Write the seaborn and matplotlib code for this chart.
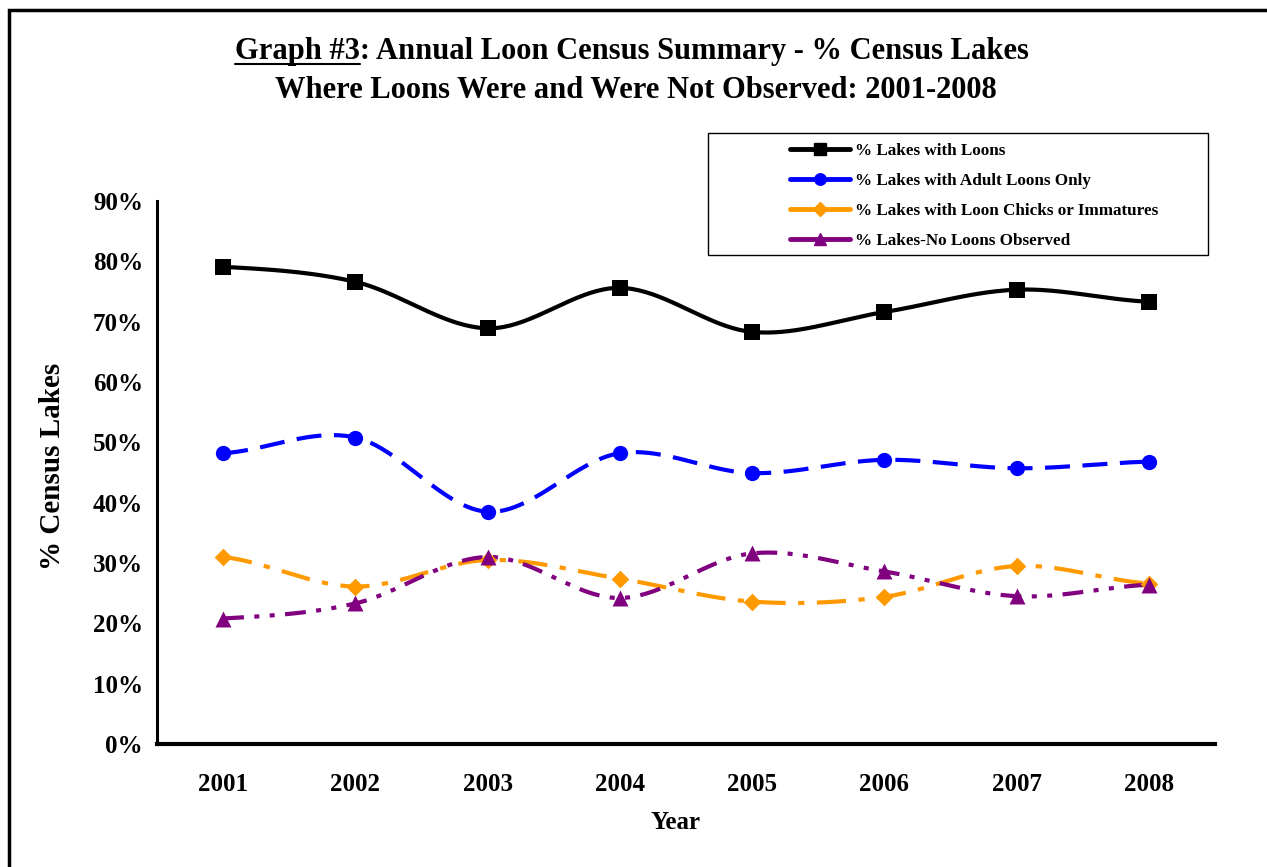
import numpy as np
import matplotlib
matplotlib.use("Agg")
import matplotlib.pyplot as plt
import seaborn as sns
from matplotlib.lines import Line2D
from matplotlib.patches import Rectangle

# data (percent of census lakes)
years = ["2001", "2002", "2003", "2004", "2005", "2006", "2007", "2008"]
pct_loons = [79.1, 76.6, 68.9, 75.6, 68.3, 71.6, 75.3, 73.3]
pct_adult_only = [48.2, 50.8, 38.5, 48.2, 44.9, 47.1, 45.7, 46.8]
pct_chicks = [31.0, 26.1, 30.5, 27.4, 23.6, 24.4, 29.5, 26.6]
pct_no_loons = [20.8, 23.3, 31.0, 24.2, 31.6, 28.6, 24.5, 26.4]

labels = [
    "% Lakes with Loons",
    "% Lakes with Adult Loons Only",
    "% Lakes with Loon Chicks or Immatures",
    "% Lakes-No Loons Observed",
]
y_ticks = [0, 10, 20, 30, 40, 50, 60, 70, 80, 90]

series = [pct_loons, pct_adult_only, pct_chicks, pct_no_loons]
colors = ["#000000", "#0000FF", "#FF9900", "#800080"]
markers = ["s", "o", "D", "^"]
msizes = [11.5, 11, 9, 11.5]
dashes = [(None, None), (0, (6, 3)), (0, (7, 3, 1.5, 3)), (0, (5, 2.5, 1.2, 2.5, 1.2, 2.5))]


def smooth(y, n=40):
    """Courbe lissee type Excel (Catmull-Rom) entre les points."""
    y = np.asarray(y, float)
    p = np.concatenate([[y[0]], y, [y[-1]]])
    xs, ys = [], []
    for i in range(len(y) - 1):
        t = np.linspace(0, 1, n, endpoint=(i == len(y) - 2))
        p0, p1, p2, p3 = p[i], p[i + 1], p[i + 2], p[i + 3]
        ys.append(0.5 * (2 * p1 + (-p0 + p2) * t + (2 * p0 - 5 * p1 + 4 * p2 - p3) * t ** 2
                         + (-p0 + 3 * p1 - 3 * p2 + p3) * t ** 3))
        xs.append(i + t)
    return np.concatenate(xs), np.concatenate(ys)


sns.set_style("white")
plt.rcParams["font.family"] = ["Liberation Serif", "DejaVu Serif"]
plt.rcParams["font.weight"] = "bold"
for k in ["text.color", "axes.labelcolor", "xtick.color", "ytick.color"]:
    plt.rcParams[k] = "black"

fig = plt.figure(figsize=(12.67, 8.67), dpi=100)
ax = fig.add_axes([157 / 1267, 1 - 744 / 867, 1058 / 1267, 543 / 867])

xpos = np.arange(len(years))
handles = []
for vals, col, mk, ms, ls, lab in zip(series, colors, markers, msizes, dashes, labels):
    sx, sy = smooth(vals)
    if ls[0] is None:
        ax.plot(sx, sy, color=col, lw=3, zorder=2)
    else:
        ax.plot(sx, sy, color=col, lw=3, linestyle=ls, zorder=2)
    sns.scatterplot(x=xpos, y=vals, marker=mk, s=ms ** 2, color=col,
                    edgecolor=col, linewidth=0, ax=ax, zorder=3, legend=False)
    handles.append(Line2D([0], [0], color=col, lw=3.5, marker=mk, markersize=ms * 0.75,
                          markeredgecolor=col, label=lab))

ax.set_xlim(-0.5, 7.5)
ax.set_ylim(0, 90)
ax.set_yticks(y_ticks)
ax.set_yticklabels([f"{v}%" for v in y_ticks], fontsize=18, fontweight="bold")
ax.set_xticks(xpos)
ax.set_xticklabels(years, fontsize=18, fontweight="bold")
ax.set_xticks(np.arange(-0.5, 8, 1), minor=True)
ax.tick_params(axis="x", which="major", length=0, pad=21)
ax.tick_params(axis="x", which="minor", length=7, width=2, direction="out", color="black")
ax.tick_params(axis="y", length=6, width=2, direction="out", color="black", pad=4)

for s in ["top", "right"]:
    ax.spines[s].set_visible(False)
ax.spines["left"].set_linewidth(2.2)
ax.spines["bottom"].set_linewidth(3)
ax.spines["left"].set_color("black")
ax.spines["bottom"].set_color("black")

ax.set_ylabel("% Census Lakes", fontsize=21, fontweight="bold")
ax.yaxis.set_label_coords(-0.086, 0.512)
ax.set_xlabel("Year", fontsize=18, fontweight="bold")
ax.xaxis.set_label_coords(0.49, -0.123)

# titre sur deux lignes, "Graph #3" souligne
fig.canvas.draw()
renderer = fig.canvas.get_renderer()
line1 = "Graph #3: Annual Loon Census Summary - % Census Lakes"
t1 = fig.text(632 / 1267, 1 - 51 / 867, line1, ha="center", va="center",
              fontsize=22, fontweight="bold")
fig.text(636 / 1267, 1 - 90 / 867, "Where Loons Were and Were Not Observed: 2001-2008",
         ha="center", va="center", fontsize=22, fontweight="bold")
bb = t1.get_window_extent(renderer)
tmp = fig.text(0, 0, "Graph #3", fontsize=22, fontweight="bold")
wpart = tmp.get_window_extent(renderer).width
tmp.remove()
uy = (bb.y0 + 2) / fig.bbox.height
fig.add_artist(Line2D([bb.x0 / fig.bbox.width, (bb.x0 + wpart) / fig.bbox.width],
                      [uy, uy], color="black", lw=1.5, transform=fig.transFigure))

# legende dans un cadre fixe
fig.add_artist(Rectangle((708 / 1267, 1 - 255 / 867), 500 / 1267, 122 / 867,
                         transform=fig.transFigure, fill=False, edgecolor="black", lw=1))
fig.legend(handles=handles, loc="upper left", bbox_to_anchor=(790 / 1267, 1 - 143 / 867),
           frameon=False, prop={"weight": "bold", "size": 12.3},
           handlelength=3.5, handletextpad=0.3, labelspacing=0.82, borderaxespad=0,
           borderpad=0)

# cadre exterieur
fig.add_artist(Rectangle((9 / 1267, -0.05), 1.1, 1.05 - 10 / 867,
                         transform=fig.transFigure, fill=False, edgecolor="black",
                         lw=2.5, clip_on=False))

fig.savefig("out.png", dpi=100, facecolor="white")
